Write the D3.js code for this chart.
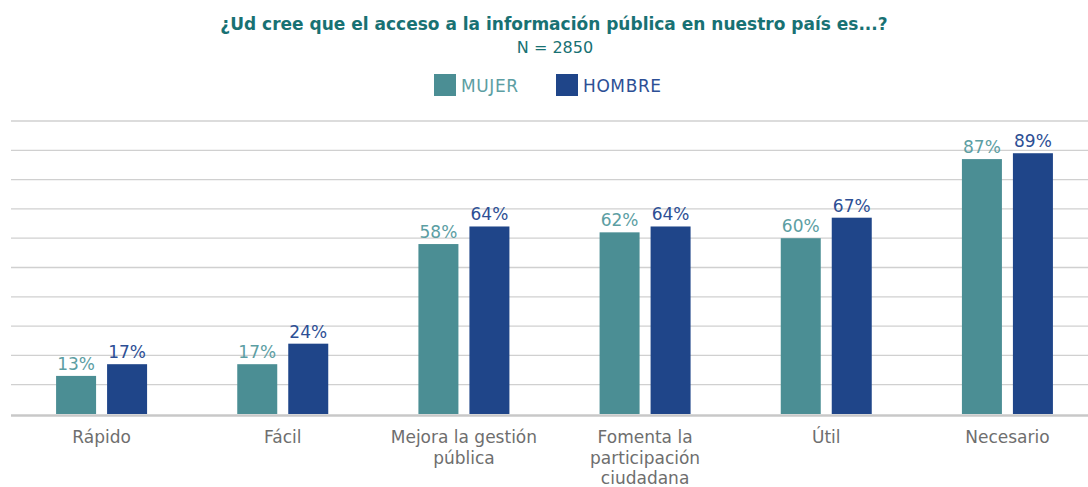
<!DOCTYPE html>
<html>
<head>
<meta charset="utf-8">
<script src="https://cdn.jsdelivr.net/npm/d3@7"></script>
<style>
  body { margin: 0; background: #fff; }
  svg { font-family: "DejaVu Sans", "Noto Sans", sans-serif; }
</style>
</head>
<body>
<svg width="1088" height="487"></svg>
<script>
// data
var categories = ["Rápido", "Fácil", "Mejora la gestión|pública", "Fomenta la|participación|ciudadana", "Útil", "Necesario"];
var series = ["MUJER", "HOMBRE"];
var mujer = [13, 17, 58, 62, 60, 87];
var hombre = [17, 24, 64, 64, 67, 89];
var yTicks = [0, 10, 20, 30, 40, 50, 60, 70, 80, 90, 100];

var barColor = {MUJER: "#4b8e94", HOMBRE: "#1f4589"};
var labelColor = {MUJER: "#5c9ea3", HOMBRE: "#2d4f95"};

var svg = d3.select("svg");
var plotLeft = 11, plotRight = 1098, plotTop = 121, plotBottom = 414;

var x = d3.scaleBand().domain(categories).range([plotLeft, plotRight]);
var xs = d3.scaleBand().domain(series).range([0, 91]).paddingInner(11 / 51);
var y = d3.scaleLinear().domain([0, 100]).range([plotBottom, plotTop]);

// gridlines
svg.append("g")
  .selectAll("line")
  .data(yTicks.slice(1))
  .enter().append("line")
  .attr("x1", plotLeft).attr("x2", 1088)
  .attr("y1", function(d) { return y(d); })
  .attr("y2", function(d) { return y(d); })
  .attr("stroke", "#d0d0d0")
  .attr("stroke-width", 1.3);

// title
svg.append("text")
  .attr("x", 554).attr("y", 30)
  .attr("text-anchor", "middle")
  .attr("font-size", "17px").attr("font-weight", "bold")
  .attr("fill", "#187173")
  .text("¿Ud cree que el acceso a la información pública en nuestro país es...?");
svg.append("text")
  .attr("x", 555).attr("y", 53)
  .attr("text-anchor", "middle")
  .attr("font-size", "16px")
  .attr("fill", "#187173")
  .text("N = 2850");

// legend
var legendX = {MUJER: 434, HOMBRE: 556};
series.forEach(function(s) {
  svg.append("rect")
    .attr("x", legendX[s]).attr("y", 74)
    .attr("width", 22).attr("height", 22)
    .attr("fill", barColor[s]);
  svg.append("text")
    .attr("x", legendX[s] + 27).attr("y", 92)
    .attr("font-size", "17px")
    .attr("letter-spacing", "0.6px")
    .attr("fill", labelColor[s])
    .text(s);
});

// bars
var rows = categories.map(function(c, i) {
  return {cat: c, vals: [{s: "MUJER", v: mujer[i]}, {s: "HOMBRE", v: hombre[i]}]};
});

var groups = svg.selectAll(".grp")
  .data(rows)
  .enter().append("g")
  .attr("class", "grp")
  .attr("transform", function(d) { return "translate(" + (x(d.cat) + x.bandwidth() / 2 - 45.5) + ",0)"; });

groups.selectAll("rect")
  .data(function(d) { return d.vals; })
  .enter().append("rect")
  .attr("x", function(d) { return xs(d.s); })
  .attr("y", function(d) { return y(d.v); })
  .attr("width", xs.bandwidth())
  .attr("height", function(d) { return plotBottom - y(d.v); })
  .attr("fill", function(d) { return barColor[d.s]; });

groups.selectAll(".val")
  .data(function(d) { return d.vals; })
  .enter().append("text")
  .attr("class", "val")
  .attr("x", function(d) { return xs(d.s) + xs.bandwidth() / 2; })
  .attr("y", function(d) { return y(d.v) - 6; })
  .attr("text-anchor", "middle")
  .attr("font-size", "17px")
  .attr("fill", function(d) { return labelColor[d.s]; })
  .text(function(d) { return d.v + "%"; });

// baseline
svg.append("line")
  .attr("x1", plotLeft).attr("x2", 1088)
  .attr("y1", plotBottom + 1.5).attr("y2", plotBottom + 1.5)
  .attr("stroke", "#c8c8c8").attr("stroke-width", 2.5);

// category labels
var xAxis = svg.append("g");
categories.forEach(function(c) {
  var t = xAxis.append("text")
    .attr("text-anchor", "middle")
    .attr("font-size", "17px")
    .attr("fill", "#6e6e6e");
  c.split("|").forEach(function(line, j) {
    t.append("tspan")
      .attr("x", x(c) + x.bandwidth() / 2)
      .attr("y", 443 + j * 20.5)
      .text(line);
  });
});
</script>
</body>
</html>
